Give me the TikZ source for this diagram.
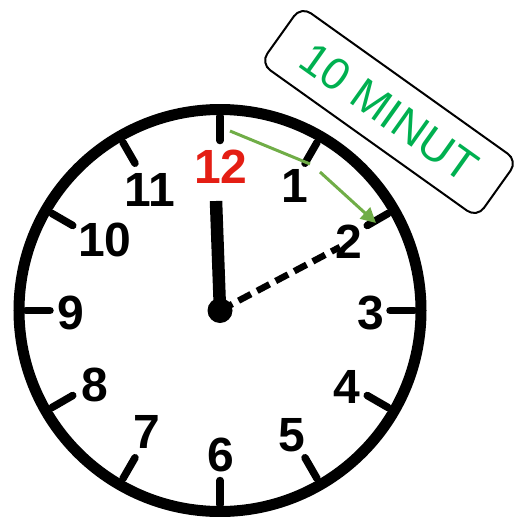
\documentclass[tikz,border=0pt]{standalone}
\usepackage{fontspec}
\setmainfont{Liberation Sans}
\usetikzlibrary{arrows.meta,calc}
\definecolor{arrowgreen}{RGB}{112,173,71}
\definecolor{textgreen}{RGB}{0,176,80}
\definecolor{numred}{RGB}{228,30,20}
\begin{document}
\begin{tikzpicture}[x=1pt,y=-1pt,
  num/.style={font=\fontsize{48}{48}\selectfont\bfseries, inner sep=0pt},
  tick/.style={line width=7.5pt, line cap=round},
  garrow/.style={draw=arrowgreen, line width=3pt}]
\useasboundingbox (0,0) rectangle (514,517);
\coordinate (c) at (220,310.5);
\draw[line width=11pt] (c) circle [radius=201];
\foreach \i in {0,...,11}{
  \draw[tick] ($(c)+(30*\i-90:170)$) -- ($(c)+(30*\i-90:194)$);
}
\node[num, text=numred] (n12) at (221,167) {12};
\node[num] (n1) at (295,186) {1};
\node[num] (n2) at (349,242) {2};
\node[num] (n3) at (371,313) {3};
\node[num] (n4) at (347,387) {4};
\node[num] (n5) at (292,435) {5};
\node[num] (n6) at (221,455) {6};
\node[num] (n7) at (147,432) {7};
\node[num] (n8) at (95,385) {8};
\node[num] (n9) at (71,313) {9};
\node[num] (n10) at (105,240) {10};
\node[num] (n11) at (150,190) {11};
% hour hand
\coordinate (htop) at (216,201);
\draw[line width=12.5pt] (htop) -- (c);
% minute hand dashed
\coordinate (mtip) at (340,247);
\draw[line width=6.5pt, dash pattern=on 14pt off 7pt] (c) -- (mtip);
\fill (c) circle [radius=12.5];
% green arrow
\coordinate (g1) at (230,131);
\coordinate (g2) at (310,164);
\coordinate (g3) at (320,172);
\coordinate (g4) at (376,223);
\draw[garrow] (g1) -- (g2);
\draw[garrow, -{Triangle[length=15pt,width=15pt]}] (g3) -- (g4);
% label box
\node[draw, line width=2pt, rounded corners=12pt, rotate=-35.5,
  minimum width=266pt, minimum height=70pt, text=textgreen,
  font=\fontsize{45}{45}\selectfont] (box) at (389,112) {10 MINUT};
\end{tikzpicture}
\end{document}
